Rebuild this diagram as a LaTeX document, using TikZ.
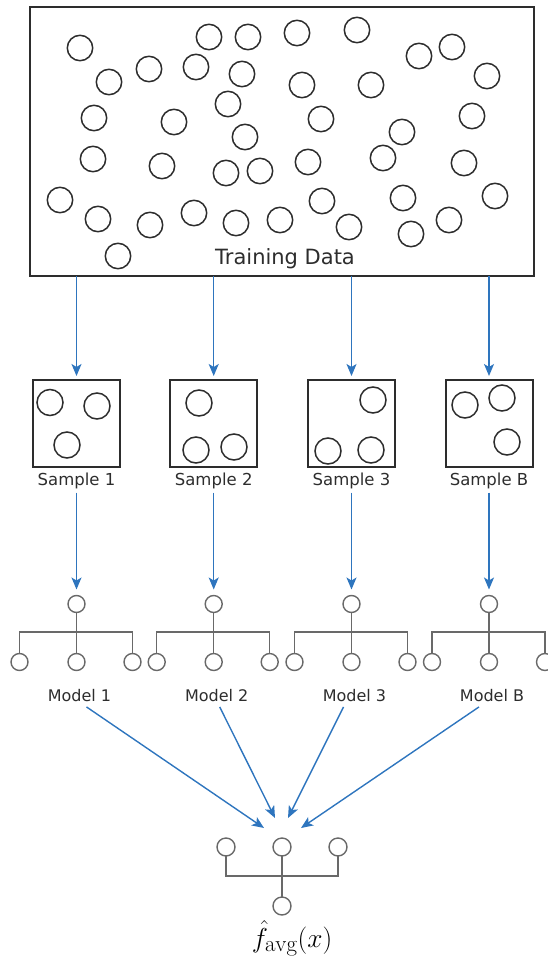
\documentclass[tikz,border=0pt]{standalone}
\usepackage{graphicx}
\usepackage{fontspec}
\newfontfamily\dvsans{DejaVu Sans}
\usetikzlibrary{arrows.meta,calc}
\definecolor{arr}{RGB}{46,117,190}
\definecolor{ink}{RGB}{45,45,45}
\definecolor{treec}{RGB}{105,105,105}
\begin{document}
\begin{tikzpicture}[x=1pt,y=-1pt,
  dot/.style={draw=ink,line width=1.5pt},
  sbox/.style={draw=ink,line width=2pt,minimum size=87pt,inner sep=0pt,outer sep=0pt},
  tc/.style={circle,draw=treec,line width=1.4pt,minimum size=17pt,inner sep=0pt,outer sep=0pt},
  tl/.style={draw=treec,line width=1.4pt},
  lbl/.style={font=\dvsans\fontsize{16.5}{20}\selectfont,text=ink,inner sep=3pt},
  mlbl/.style={font=\dvsans\fontsize{16}{19}\selectfont,text=ink,inner sep=3pt},
  arrowline/.style={draw=arr,line width=1.4pt,-{Stealth[length=12pt,width=10pt,inset=3pt]}}]
\useasboundingbox (0,0) rectangle (548,957);
% training data box
\node[draw=ink,line width=2.6pt,minimum width=504pt,minimum height=269pt,inner sep=0pt,outer sep=0pt] (td) at (282,141.5) {};
\foreach \p in {(80,48),(209,37),(248,37),(297,33),(357,30),(419,56),(452,47),(487,76),
  (109,82),(149,69),(196,67),(242,74),(302,85),(371,85),(228,104),(94,118),(174,122),
  (321,119),(472,116),(402,132),(245,137),(93,159),(162,166),(226,173),(260,171),(308,162),
  (383,158),(464,163),(60,200),(98,219),(150,225),(194,213),(236,223),(280,220),(322,201),
  (349,227),(403,198),(495,196),(449,220),(411,234),(118,256)}
  \draw[dot] \p circle[radius=12.7pt];
\node[font=\dvsans\fontsize{21}{25}\selectfont,text=ink,anchor=base] (tdl) at (285,265) {Training Data};
% samples and models
\foreach \i/\cx/\k in {1/76.5/1,2/213.7/2,3/351.5/3,4/489/B} {
  \node[sbox] (smp\i) at (\cx,423.5) {};
  \node[lbl,anchor=base] (sl\i) at (\cx,485) {Sample \k};
  \node[tc] (mt\i) at (\cx,604) {};
  \node[tc] (ma\i) at ({\cx-57},662) {};
  \node[tc] (mb\i) at (\cx,662) {};
  \node[tc] (mc\i) at ({\cx+56},662) {};
  \coordinate (bar\i) at (\cx,632);
  \draw[tl] (mt\i) -- (mb\i);
  \draw[tl] (ma\i) -- (ma\i |- bar\i) -- (mc\i |- bar\i) -- (mc\i);
  \node[mlbl,anchor=base] (ml\i) at ({\cx+3},701.5) {Model \k};
  \draw[arrowline] (td.south -| smp\i.north) -- ([yshift=4pt]smp\i.north);
  \draw[arrowline,shorten <=1pt] (sl\i.south) -- ([yshift=6pt]mt\i.north);
}
% sample circles
\foreach \p in {(50,402.5),(97,406),(67,445),(199,403),(196,450),(234,447),
  (373,400),(328,451),(371,450),(465,405),(502,398),(507,442)}
  \draw[dot] \p circle[radius=13pt];
% final aggregated tree
\node[tc,minimum size=18pt] (fa) at (226,847) {};
\node[tc,minimum size=18pt] (fb) at (282,847) {};
\node[tc,minimum size=18pt] (fc) at (338,847) {};
\node[tc,minimum size=18pt] (fo) at (282,906) {};
\coordinate (fbar) at (282,876);
\draw[tl] (fa) -- (fa |- fbar) -- (fc |- fbar) -- (fc);
\draw[tl] (fb) -- (fo);
\node[anchor=base,inner sep=0pt] (fl) at (292,947) {\scalebox{1.1}{\Huge $\hat{f}_{\mathrm{avg}}(x)$}};
% arrows into aggregate
\coordinate (t1) at (264,828);
\coordinate (t2) at (275,818);
\coordinate (t3) at (288,818);
\coordinate (t4) at (301,828);
\draw[arrowline] ($(ml1.south)+(7,2)$) -- (t1);
\draw[arrowline] ($(ml2.south)+(3,2)$) -- (t2);
\draw[arrowline] ($(ml3.south)+(-11,2)$) -- (t3);
\draw[arrowline] ($(ml4.south)+(-13,2)$) -- (t4);
\end{tikzpicture}
\end{document}
